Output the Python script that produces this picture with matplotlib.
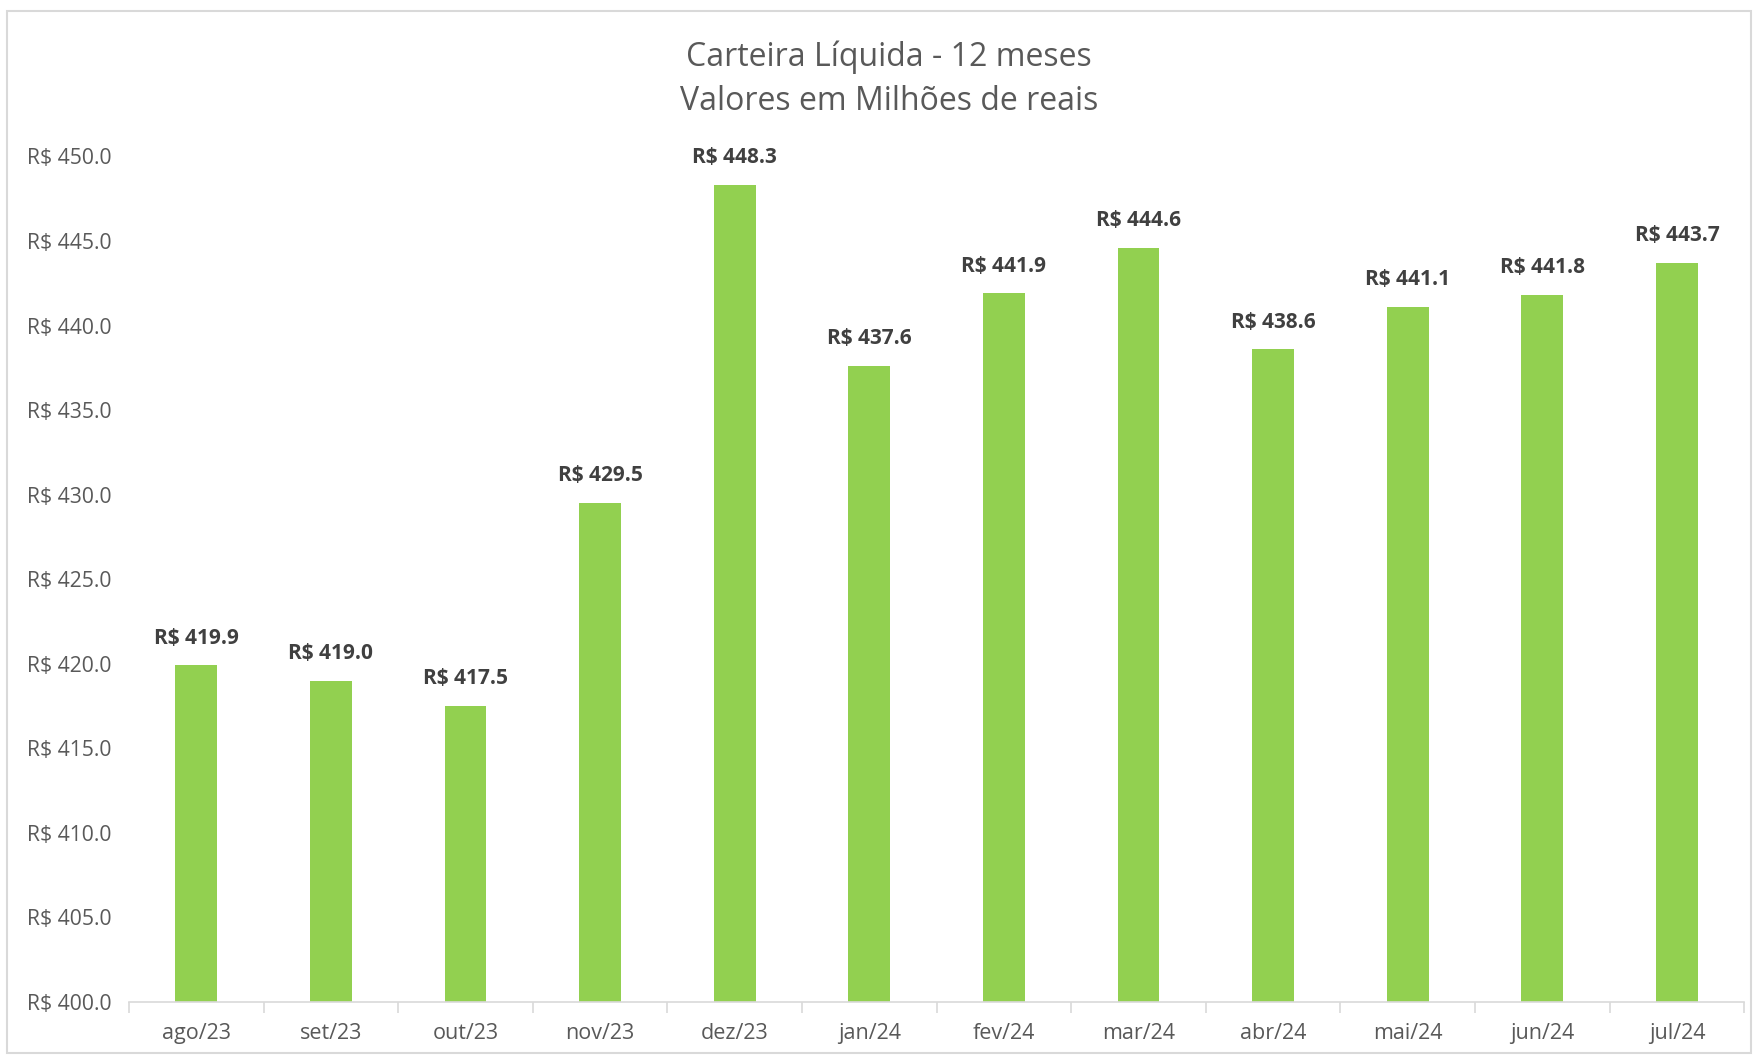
import matplotlib
matplotlib.use("Agg")
import matplotlib.pyplot as plt
from matplotlib.patches import Rectangle
import numpy as np

categories = ["ago/23", "set/23", "out/23", "nov/23", "dez/23", "jan/24",
              "fev/24", "mar/24", "abr/24", "mai/24", "jun/24", "jul/24"]
values = [419.9, 419.0, 417.5, 429.5, 448.3, 437.6, 441.9, 444.6, 438.6, 441.1, 441.8, 443.7]
yticks = [400, 405, 410, 415, 420, 425, 430, 435, 440, 445, 450]
title = "Carteira Líquida - 12 meses\nValores em Milhões de reais"

plt.rcParams['font.family'] = ['Open Sans', 'DejaVu Sans']

fig = plt.figure(figsize=(17.53, 10.61), dpi=100)
ax = fig.add_axes([0.0736, 0.0556, 0.9214, 0.797])

x = np.arange(len(categories))
ax.bar(x, values, width=0.31, color="#92D050", zorder=2)
ax.set_ylim(400, 450)
ax.set_xlim(-0.5, len(categories) - 0.5)
ax.set_yticks(yticks)
ax.set_yticklabels([f"R$ {v:.1f}" for v in yticks], color="#595959", fontsize=15.2)
ax.set_xticks(x)
ax.set_xticklabels(categories, color="#595959", fontsize=15.5)
ax.tick_params(axis='x', length=0, pad=15)
ax.tick_params(axis='y', length=0, pad=12.5)
ax.set_xticks(np.arange(-0.5, len(categories), 1.0), minor=True)
ax.tick_params(axis='x', which='minor', length=8, color="#D9D9D9", width=1.2)

for s in ["top", "right", "left"]:
    ax.spines[s].set_visible(False)
ax.spines["bottom"].set_color("#D9D9D9")
ax.spines["bottom"].set_linewidth(1.2)

for xi, v in zip(x, values):
    ax.annotate(f"R$ {v:.1f}", (xi, v), xytext=(0, 12), textcoords="offset points",
                ha="center", va="bottom", fontsize=15, fontweight="bold",
                color="#404040", clip_on=False)

fig.text(0.507, 0.925, title, ha="center", va="center", fontsize=23,
         color="#595959", linespacing=1.45)

fig.patches.append(Rectangle((0.004, 0.008), 0.995, 0.982, transform=fig.transFigure,
                             fill=False, edgecolor="#D9D9D9", linewidth=1.5))

fig.savefig("out.png", dpi=100)
